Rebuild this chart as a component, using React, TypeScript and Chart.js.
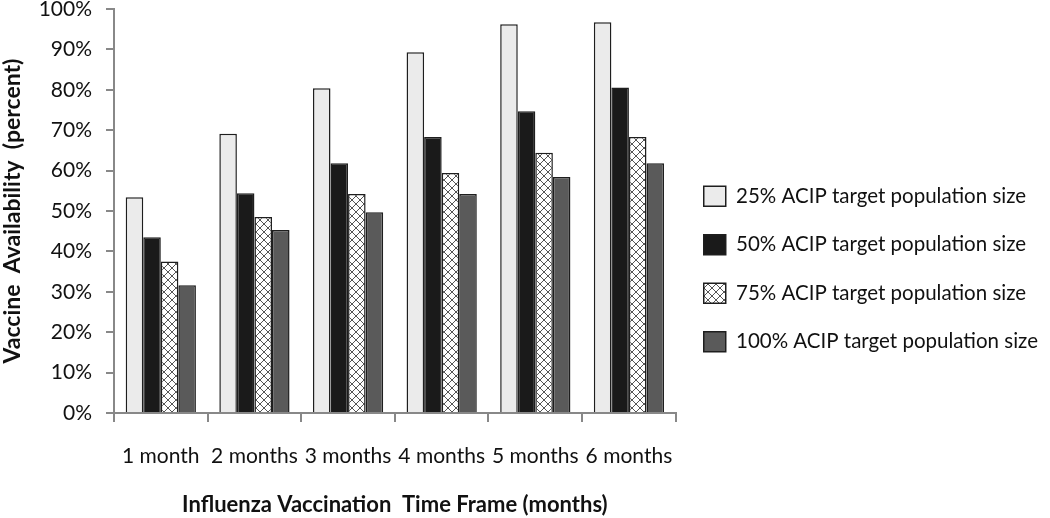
import React, { useEffect, useRef } from "react";
import { Chart, registerables } from "chart.js";

Chart.register(...registerables);

const categories = ["1 month", "2 months", "3 months", "4 months", "5 months", "6 months"];
const seriesLabels = [
  "25% ACIP target population size",
  "50% ACIP target population size",
  "75% ACIP target population size",
  "100% ACIP target population size",
];
const pop25 = [53.4, 69.1, 80.4, 89.3, 96.2, 96.7];
const pop50 = [43.5, 54.4, 61.8, 68.3, 74.7, 80.6];
const pop75 = [37.5, 48.5, 54.2, 59.4, 64.4, 68.3];
const pop100 = [31.6, 45.3, 49.7, 54.2, 58.4, 61.8];
const yMin = 0;
const yMax = 100;
const yStep = 10;

const FONT = "Lato, 'Open Sans', sans-serif";

function makeHatch(): CanvasPattern | string {
  const c = document.createElement("canvas");
  c.width = 8;
  c.height = 8;
  const ctx = c.getContext("2d");
  if (!ctx) return "#fff";
  ctx.fillStyle = "#ffffff";
  ctx.fillRect(0, 0, 8, 8);
  ctx.strokeStyle = "#555555";
  ctx.lineWidth = 1;
  ctx.beginPath();
  ctx.moveTo(-1, -1);
  ctx.lineTo(9, 9);
  ctx.moveTo(9, -1);
  ctx.lineTo(-1, 9);
  ctx.stroke();
  return ctx.createPattern(c, "repeat") || "#fff";
}

export default function App() {
  const ref = useRef<HTMLCanvasElement | null>(null);

  useEffect(() => {
    if (!ref.current) return;
    const hatch = makeHatch();
    const fills = ["#ebebeb", "#1a1a1a", hatch, "#5a5a5a"];
    const values = [pop25, pop50, pop75, pop100];
    const chart = new Chart(ref.current, {
      type: "bar",
      data: {
        labels: categories,
        datasets: values.map((v, i) => ({
          label: seriesLabels[i],
          data: v,
          backgroundColor: fills[i] as any,
          borderColor: "#1e1e1e",
          borderWidth: 1.5,
          categoryPercentage: 0.75,
          barPercentage: 1,
        })),
      },
      options: {
        animation: false,
        responsive: false,
        devicePixelRatio: 1,
        layout: { padding: { top: 0, bottom: 0, left: 0, right: 2 } },
        plugins: {
          tooltip: { enabled: false },
          legend: {
            position: "right",
            maxWidth: 380,
            title: { display: true, text: "", font: { size: 1, lineHeight: 1 }, padding: { top: 9, bottom: 10 } },
            labels: {
              boxWidth: 22,
              boxHeight: 20,
              padding: 28,
              color: "#111",
              font: { family: FONT, size: 20.5 },
            },
          },
        },
        scales: {
          x: {
            afterFit: (s: any) => {
              s.height = 105;
            },
            grid: {
              display: true,
              drawOnChartArea: false,
              drawTicks: true,
              tickLength: 9,
              color: "#888",
              lineWidth: 2,
              offset: true,
            },
            border: { color: "#888", width: 2 },
            ticks: { padding: 22, maxRotation: 0, color: "#111", font: { family: FONT, size: 21 } },
            title: {
              display: true,
              text: "Influenza Vaccination  Time Frame (months)",
              color: "#111",
              font: { family: FONT, size: 22, weight: "bold", lineHeight: 1.2 },
              padding: { top: 0, bottom: 0 },
            },
          },
          y: {
            min: yMin,
            max: yMax,
            afterFit: (s: any) => {
              s.width = 114;
              s.paddingTop = 9;
              s.paddingBottom = 0;
            },
            grid: {
              display: true,
              drawOnChartArea: false,
              drawTicks: true,
              tickLength: 8,
              color: "#888",
              lineWidth: 2,
            },
            border: { color: "#888", width: 2 },
            ticks: {
              stepSize: yStep,
              padding: 14,
              color: "#111",
              font: { family: FONT, size: 21, lineHeight: 1 },
              callback: (v: any) => v + "%",
            },
            title: {
              display: true,
              text: "Vaccine  Availability  (percent)",
              color: "#111",
              font: { family: FONT, size: 23, weight: "bold", lineHeight: 1.1 },
              padding: { top: 0, bottom: 0 },
            },
          },
        },
      },
    });
    return () => chart.destroy();
  }, []);

  return (
    <div style={{ position: "absolute", left: 0, top: 0, width: 1050, height: 518, background: "#fff" }}>
      <canvas ref={ref} width={1050} height={518} />
    </div>
  );
}
